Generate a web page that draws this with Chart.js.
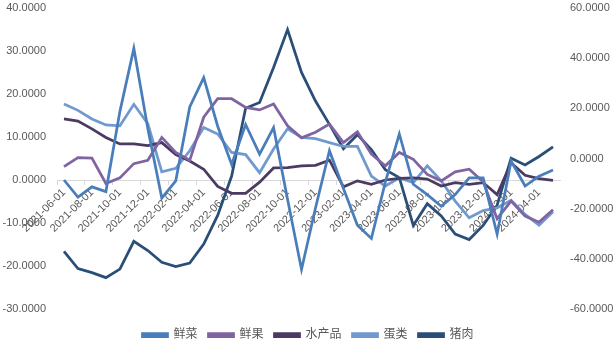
<!DOCTYPE html>
<html lang="zh">
<head>
<meta charset="UTF-8">
<title>食品分项同比</title>
<script src="https://cdn.jsdelivr.net/npm/chart.js"></script>
<style>
  html, body { margin: 0; padding: 0; background: #fff; }
</style>
</head>
<body>
<canvas id="chart" width="616" height="346"></canvas>
<script>
  // 月度日期
  const months = [
    '2021-06-01', '2021-07-01', '2021-08-01', '2021-09-01', '2021-10-01', '2021-11-01', '2021-12-01',
    '2022-01-01', '2022-02-01', '2022-03-01', '2022-04-01', '2022-05-01', '2022-06-01', '2022-07-01',
    '2022-08-01', '2022-09-01', '2022-10-01', '2022-11-01', '2022-12-01',
    '2023-01-01', '2023-02-01', '2023-03-01', '2023-04-01', '2023-05-01', '2023-06-01', '2023-07-01',
    '2023-08-01', '2023-09-01', '2023-10-01', '2023-11-01', '2023-12-01',
    '2024-01-01', '2024-02-01', '2024-03-01', '2024-04-01', '2024-05-01'
  ]

  // 左轴
  const vegetables = [0.0, -4.0, -1.6, -2.7, 15.9, 30.6, 12.0, -4.2, -0.2, 17.0, 23.8, 12.5, 3.6, 12.9,
    6.0, 12.2, -4.5, -20.8, -6.5, 6.8, -2.0, -10.5, -13.6, -0.5, 10.7, -1.0,
    -3.4, -6.1, -3.4, 0.5, 0.5, -12.6, 4.4, -1.4, 0.9, 2.3]
  const fruit = [3.1, 5.2, 5.1, -0.8, 0.5, 3.8, 4.6, 9.9, 6.4, 4.6, 14.6, 18.9, 18.9, 16.9,
    16.3, 17.7, 12.6, 9.8, 11.1, 13.0, 8.7, 11.2, 6.0, 3.3, 6.4, 4.8,
    1.3, -0.2, 1.9, 2.5, -0.4, -9.0, -4.9, -8.4, -9.8, -6.9]
  const aquatic = [14.2, 13.7, 11.9, 9.9, 8.4, 8.4, 8.0, 8.7, 5.9, 4.4, 2.5, -1.5, -3.1, -3.1,
    -0.5, 2.8, 2.9, 3.3, 3.4, 4.6, -1.6, -0.2, -1.0, 0.0, 0.4, 0.5,
    0.2, -1.4, -0.6, -1.0, -0.6, -3.4, 4.0, 1.1, 0.3, -0.1]
  const eggs = [17.7, 16.2, 14.2, 12.8, 12.6, 17.6, 13.1, 1.9, 2.7, 6.8, 12.2, 10.7, 6.4, 5.9,
    1.7, 7.2, 11.9, 9.9, 9.6, 8.7, 7.8, 7.8, 0.9, -1.4, 0.5, -0.6,
    3.3, -0.2, -4.9, -8.8, -7.1, -6.5, -4.7, -8.0, -10.5, -7.4]
  // 右轴
  const pork = [-37.0, -43.9, -45.5, -47.5, -44.1, -33.0, -36.7, -41.4, -43.1, -41.7, -34.1, -22.7, -7.0, 20.0,
    22.3, 36.3, 51.4, 34.3, 22.9, 13.6, 3.9, 9.5, 3.5, -4.5, -7.6, -26.7,
    -18.0, -22.9, -30.1, -32.3, -26.7, -18.6, 0.1, -2.6, 0.8, 4.6]

  const leftTicks = { min: -30, max: 40, step: 10 }
  const rightTicks = { min: -60, max: 60, step: 20 }

  const textColor = '#595959'
  const fontFamily = "'Liberation Sans', 'Noto Sans CJK SC', sans-serif"

  function line(label, data, color, axis) {
    return {
      label: label,
      data: data,
      yAxisID: axis,
      borderColor: color,
      backgroundColor: color,
      borderWidth: 2.75,
      pointRadius: 0,
      tension: 0,
      fill: false
    }
  }

  // y轴刻度线不画, 只借 tickLength 留出标签间距
  const hiddenTicks = (len) => ({
    display: true,
    drawOnChartArea: false,
    drawTicks: true,
    tickLength: len,
    color: 'rgba(0,0,0,0)'
  })

  new Chart(document.getElementById('chart'), {
    type: 'line',
    data: {
      labels: months,
      datasets: [
        line('鲜菜', vegetables, '#4A7EBB', 'y'),
        line('鲜果', fruit, '#8064A2', 'y'),
        line('水产品', aquatic, '#4B3A61', 'y'),
        line('蛋类', eggs, '#7099D0', 'y'),
        line('猪肉', pork, '#2B4E77', 'y1')
      ]
    },
    options: {
      responsive: false,
      animation: false,
      layout: { padding: { top: 8, right: 0, bottom: -5, left: 0 } },
      scales: {
        x: {
          type: 'category',
          offset: true,
          position: { y: 0 },
          grid: {
            display: true,
            drawOnChartArea: false,
            offset: true,
            tickLength: 4,
            color: (ctx) => (ctx.index % 2 === 0 ? '#d9d9d9' : 'rgba(0,0,0,0)')
          },
          border: { display: true, color: '#d9d9d9', width: 1 },
          ticks: {
            autoSkip: false,
            minRotation: 45,
            maxRotation: 45,
            padding: 2,
            color: textColor,
            font: { family: fontFamily, size: 11 },
            callback: function (value, index) {
              return index % 2 === 0 ? this.getLabelForValue(value) : ''
            }
          }
        },
        y: {
          position: 'left',
          min: leftTicks.min,
          max: leftTicks.max,
          grid: hiddenTicks(11),
          border: { display: false },
          ticks: {
            stepSize: leftTicks.step,
            padding: 0,
            color: textColor,
            font: { family: fontFamily, size: 11 },
            callback: (v) => Number(v).toFixed(4)
          },
          afterFit: (scale) => { scale.width = 57 }
        },
        y1: {
          position: 'right',
          min: rightTicks.min,
          max: rightTicks.max,
          grid: hiddenTicks(10),
          border: { display: false },
          ticks: {
            stepSize: rightTicks.step,
            padding: 0,
            color: textColor,
            font: { family: fontFamily, size: 11 },
            callback: (v) => Number(v).toFixed(4)
          },
          afterFit: (scale) => { scale.width = 56 }
        }
      },
      plugins: {
        legend: {
          position: 'bottom',
          title: { display: true, text: ' ', font: { size: 9, lineHeight: 1 }, padding: 0 },
          labels: {
            boxWidth: 25,
            boxHeight: 3,
            padding: 11,
            color: textColor,
            font: { family: fontFamily, size: 12 }
          }
        },
        tooltip: { enabled: false }
      }
    }
  })
</script>
</body>
</html>
